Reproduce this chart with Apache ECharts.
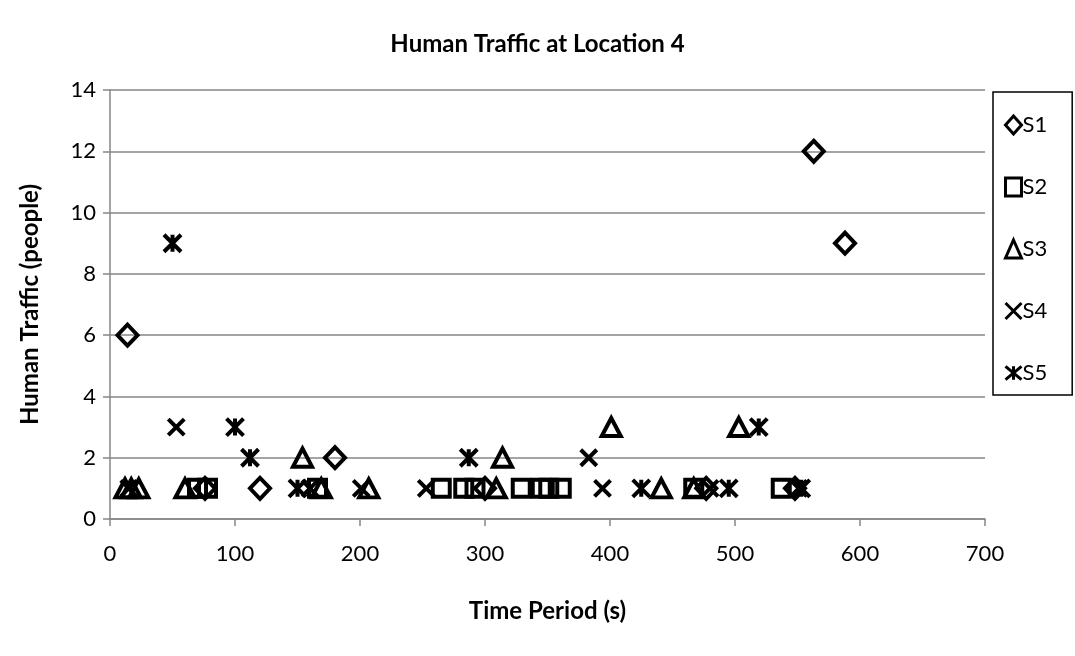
<!DOCTYPE html>
<html><head><meta charset="utf-8">
<script src="https://cdn.jsdelivr.net/npm/echarts@6/dist/echarts.min.js"></script>
<style>html,body{margin:0;padding:0;background:#fff}#c{width:1075px;height:656px}</style>
</head><body><div id="c"></div>
<script>
// Data: [time (s), people]
const S1 = [[14,6],[76,1],[120,1],[180,2],[300,1],[477,1],[548,1],[563,12],[588,9]];
const S2 = [[70,1],[78,1],[166,1],[265,1],[283,1],[292,1],[329,1],[345,1],[351,1],[361,1],[467,1],[537,1]];
const S3 = [[12,1],[17,1],[23,1],[60,1],[154,2],[169,1],[207,1],[309,1],[314,2],[401,3],[441,1],[467,1],[503,3]];
const S4 = [[15,1],[53,3],[160,1],[201,1],[253,1],[383,2],[394,1],[480,1],[551,1]];
const S5 = [[50,9],[100,3],[112,2],[150,1],[287,2],[425,1],[495,1],[519,3],[553,1]];
const seriesNames = ['S1','S2','S3','S4','S5'];
const xTicks = [0,100,200,300,400,500,600,700];
const yTicks = [0,2,4,6,8,10,12,14];

const FONT = 'Lato, "Open Sans", sans-serif';
const X_PATH = 'path://M0,0 L10,10 M10,0 L0,10';
const AST_PATH = 'path://M0,0 L12,10 M12,0 L0,10 M6,0 L6,10';
const defs = [
  {data:S1, symbol:'diamond', size:[20,21]},
  {data:S2, symbol:'rect', size:[17,17]},
  {data:S3, symbol:'triangle', size:[19,18]},
  {data:S4, symbol:X_PATH, size:[16,16]},
  {data:S5, symbol:AST_PATH, size:[17,17]}
];
const chart = echarts.init(document.getElementById('c'));
chart.setOption({
  animation:false,
  backgroundColor:'#fff',
  title:{text:'Human Traffic at Location 4', left:'center', top:27,
    textStyle:{fontFamily:FONT, fontWeight:'bold', fontSize:24, color:'#000'}},
  grid:{left:110, top:90, width:875, height:429},
  legend:{data:seriesNames, orient:'vertical', left:993, top:92, itemGap:40,
    itemWidth:16, itemHeight:18, padding:[22,25,11,11],
    borderColor:'#000', borderWidth:1.5,
    itemStyle:{borderWidth:3, borderColor:'#000', color:'rgba(255,255,255,0)'},
    textStyle:{fontFamily:FONT, fontSize:22, color:'#000', padding:[0,0,0,-4]}},
  xAxis:{type:'value', min:0, max:700, interval:100,
    name:'Time Period (s)', nameLocation:'middle', nameGap:80,
    nameTextStyle:{fontFamily:FONT, fontWeight:'bold', fontSize:24, color:'#000'},
    axisLine:{lineStyle:{color:'#868686', width:1.5}},
    axisTick:{show:true, length:7, lineStyle:{color:'#868686', width:1.5}},
    axisLabel:{fontFamily:FONT, fontSize:22, color:'#000', margin:24},
    splitLine:{show:false}},
  yAxis:{type:'value', min:0, max:14, interval:2,
    name:'Human Traffic (people)', nameLocation:'middle', nameGap:68, nameRotate:90,
    nameTextStyle:{fontFamily:FONT, fontWeight:'bold', fontSize:24, color:'#000'},
    axisLine:{show:true, lineStyle:{color:'#868686', width:1.5}},
    axisTick:{show:true, length:7, lineStyle:{color:'#868686', width:1.5}},
    axisLabel:{fontFamily:FONT, fontSize:22, color:'#000', margin:14},
    splitLine:{lineStyle:{color:'#868686', width:1.5}}},
  series: defs.map((d,i)=>({
    name:seriesNames[i], type:'scatter', data:d.data,
    symbol:d.symbol, symbolSize:d.size,
    itemStyle:{color:'rgba(255,255,255,0)', borderColor:'#000', borderWidth:4, opacity:1}
  }))
});
</script></body></html>
